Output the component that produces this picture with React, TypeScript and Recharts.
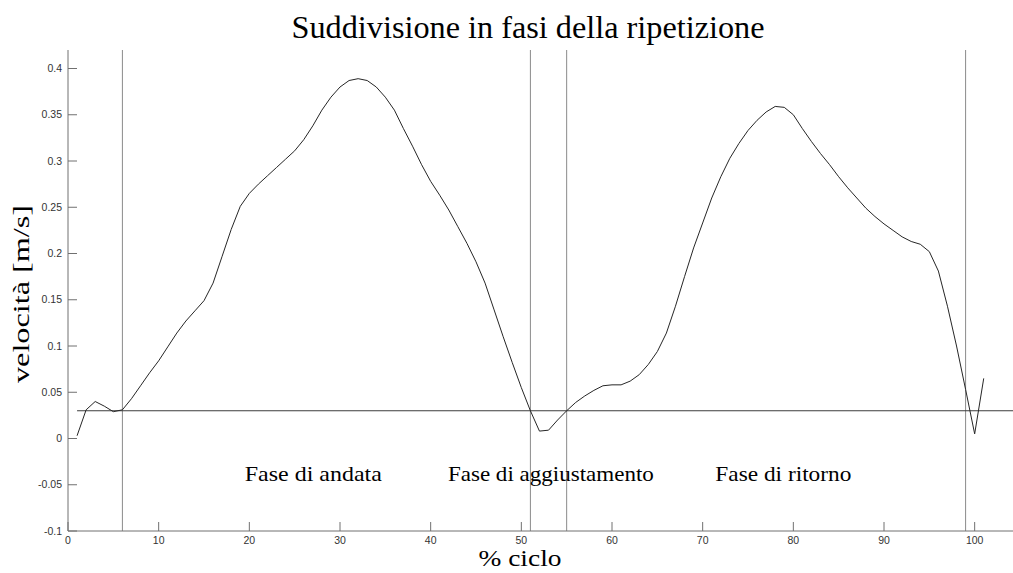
import React from 'react';
import {
  ComposedChart,
  Line,
  XAxis,
  YAxis,
  ReferenceLine,
  ReferenceDot,
} from 'recharts';

// % of the repetition cycle
const cyclePct = [
  1, 2, 3, 4, 5, 6, 7, 8, 9, 10, 11, 12, 13, 14, 15, 16, 17, 18, 19, 20,
  21, 22, 23, 24, 25, 26, 27, 28, 29, 30, 31, 32, 33, 34, 35, 36, 37, 38, 39, 40,
  41, 42, 43, 44, 45, 46, 47, 48, 49, 50, 51, 52, 53, 54, 55, 56, 57, 58, 59, 60,
  61, 62, 63, 64, 65, 66, 67, 68, 69, 70, 71, 72, 73, 74, 75, 76, 77, 78, 79, 80,
  81, 82, 83, 84, 85, 86, 87, 88, 89, 90, 91, 92, 93, 94, 95, 96, 97, 98, 99, 100,
  101,
];

// speed [m/s]
const velocity = [
  0.003, 0.031, 0.040, 0.035, 0.029, 0.031, 0.043, 0.057, 0.071, 0.084,
  0.099, 0.114, 0.127, 0.138, 0.149, 0.168, 0.197, 0.226, 0.251, 0.265,
  0.275, 0.284, 0.293, 0.302, 0.311, 0.323, 0.338, 0.355, 0.369, 0.380,
  0.387, 0.389, 0.387, 0.380, 0.369, 0.355, 0.335, 0.316, 0.296, 0.278,
  0.263, 0.247, 0.229, 0.211, 0.191, 0.168, 0.139, 0.110, 0.082, 0.055,
  0.030, 0.008, 0.009, 0.020, 0.030, 0.039, 0.046, 0.052, 0.057, 0.058,
  0.058, 0.062, 0.069, 0.080, 0.094, 0.114, 0.143, 0.175, 0.206, 0.233,
  0.260, 0.283, 0.303, 0.319, 0.333, 0.344, 0.353, 0.359, 0.358, 0.350,
  0.335, 0.321, 0.308, 0.296, 0.283, 0.271, 0.260, 0.249, 0.240, 0.232,
  0.225, 0.218, 0.213, 0.210, 0.202, 0.181, 0.143, 0.100, 0.053, 0.005,
  0.065,
];

const xTicks = [0, 10, 20, 30, 40, 50, 60, 70, 80, 90, 100];
const yTicks = [-0.1, -0.05, 0, 0.05, 0.1, 0.15, 0.2, 0.25, 0.3, 0.35, 0.4];

// phase boundaries (% ciclo) and speed threshold
const phaseBounds = [6, 51, 55, 99];
const threshold = 0.03;

const phaseNames = ['Fase di andata', 'Fase di aggiustamento', 'Fase di ritorno'];
const phaseStart = [19.5, 41.9, 71.4];
const phaseLabelV = -0.0457;

const data = cyclePct.map((x, i) => ({ x, v: velocity[i] }));

const SERIF = '"Liberation Serif", "Times New Roman", serif';
const SANS = '"Liberation Sans", Arial, Helvetica, sans-serif';
const AXIS = '#707070';
const TICK_TXT = { fill: '#333', fontSize: 10.5, fontFamily: SANS };

const fmt = (v: number) => String(Number(v.toFixed(2)));

const phaseWidths = [137, 206, 136];

export default function App() {
  return (
    <div
      style={{
        position: 'absolute',
        left: 0,
        top: 0,
        width: 1013,
        height: 573,
        overflow: 'hidden',
        background: '#fff',
      }}
    >
      <ComposedChart
        width={1030}
        height={573}
        data={data}
        margin={{ top: 50, right: 10, bottom: 22, left: 18 }}
      >
        <XAxis
          dataKey="x"
          type="number"
          domain={[0, 105]}
          allowDataOverflow
          ticks={xTicks}
          interval={0}
          height={20}
          tickSize={-9}
          tickMargin={15}
          stroke={AXIS}
          tick={TICK_TXT}
        />
        <XAxis
          xAxisId="top"
          orientation="top"
          type="number"
          domain={[0, 105]}
          allowDataOverflow
          ticks={xTicks}
          interval={0}
          height={0}
          tickSize={-9}
          tick={false}
          stroke={AXIS}
        />
        <YAxis
          type="number"
          domain={[-0.1, 0.42]}
          allowDataOverflow
          ticks={yTicks}
          interval={0}
          width={50}
          tickSize={-9}
          tickMargin={15}
          tickFormatter={fmt}
          stroke={AXIS}
          tick={TICK_TXT}
        />
        <YAxis
          yAxisId="right"
          orientation="right"
          type="number"
          domain={[-0.1, 0.42]}
          allowDataOverflow
          ticks={yTicks}
          interval={0}
          width={0}
          tickSize={-9}
          tick={false}
          stroke={AXIS}
        />

        {phaseBounds.map((b) => (
          <ReferenceLine key={b} x={b} stroke="#8a8a8a" strokeWidth={1} />
        ))}
        <ReferenceLine
          segment={[
            { x: 1, y: threshold },
            { x: 105, y: threshold },
          ]}
          stroke="#3c3c3c"
          strokeWidth={1}
        />

        {phaseNames.map((name, i) => (
          <ReferenceDot
            key={name}
            x={phaseStart[i]}
            y={phaseLabelV}
            r={1}
            shape={(p: any) => (
              <text
                x={p.cx}
                y={p.cy}
                fontFamily={SERIF}
                fontSize={21}
                fill="#000"
                textLength={phaseWidths[i]}
                lengthAdjust="spacingAndGlyphs"
              >
                {name}
              </text>
            )}
          />
        ))}

        <Line
          type="linear"
          dataKey="v"
          stroke="#262626"
          strokeWidth={1}
          dot={false}
          activeDot={false}
          isAnimationActive={false}
        />
      </ComposedChart>

      <svg
        width={1013}
        height={573}
        style={{ position: 'absolute', left: 0, top: 0, pointerEvents: 'none' }}
      >
        <text
          x={528}
          y={38}
          textAnchor="middle"
          fontFamily={SERIF}
          fontSize={32}
          textLength={473}
          lengthAdjust="spacingAndGlyphs"
        >
          Suddivisione in fasi della ripetizione
        </text>
        <text
          x={520}
          y={566}
          textAnchor="middle"
          fontFamily={SERIF}
          fontSize={23}
          textLength={83}
          lengthAdjust="spacingAndGlyphs"
        >
          % ciclo
        </text>
        <text
          transform="translate(29,294) rotate(-90)"
          textAnchor="middle"
          fontFamily={SERIF}
          fontSize={23}
          textLength={178}
          lengthAdjust="spacingAndGlyphs"
        >
          velocità [m/s]
        </text>
      </svg>
    </div>
  );
}
